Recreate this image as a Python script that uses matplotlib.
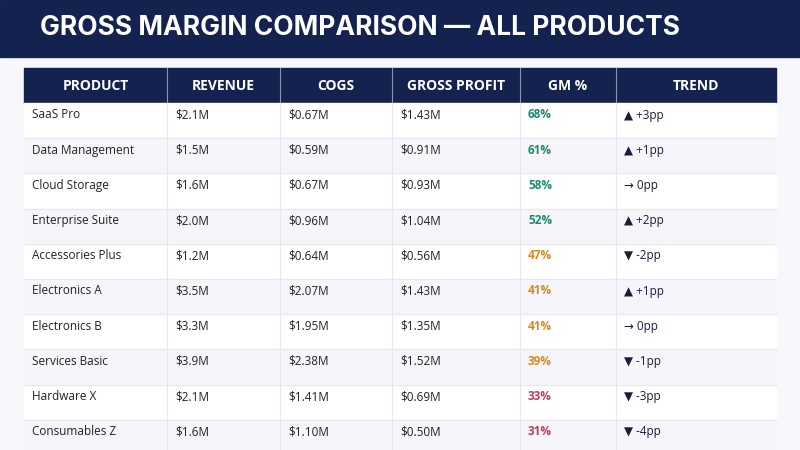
import matplotlib.pyplot as plt
from matplotlib.patches import Rectangle

# --- data ---
products = ["SaaS Pro", "Data Management", "Cloud Storage", "Enterprise Suite", "Accessories Plus",
            "Electronics A", "Electronics B", "Services Basic", "Hardware X", "Consumables Z"]
revenue = ["$2.1M", "$1.5M", "$1.6M", "$2.0M", "$1.2M", "$3.5M", "$3.3M", "$3.9M", "$2.1M", "$1.6M"]
cogs = ["$0.67M", "$0.59M", "$0.67M", "$0.96M", "$0.64M", "$2.07M", "$1.95M", "$2.38M", "$1.41M", "$1.10M"]
gross_profit = ["$1.43M", "$0.91M", "$0.93M", "$1.04M", "$0.56M", "$1.43M", "$1.35M", "$1.52M", "$0.69M", "$0.50M"]
gm_pct = [68, 61, 58, 52, 47, 41, 41, 39, 33, 31]
trend = ["▲ +3pp", "▲ +1pp", "→ 0pp", "▲ +2pp", "▼ -2pp", "▲ +1pp", "→ 0pp", "▼ -1pp", "▼ -3pp", "▼ -4pp"]
headers = ["PRODUCT", "REVENUE", "COGS", "GROSS PROFIT", "GM %", "TREND"]

NAVY = "#13224f"
W, H = 800, 450
fig = plt.figure(figsize=(8, 4.5), dpi=100)
ax = fig.add_axes([0, 0, 1, 1])
ax.set_xlim(0, W)
ax.set_ylim(H, 0)
ax.axis("off")
fig.patch.set_facecolor("#f7f8fc")

# title band
ax.add_patch(Rectangle((0, 0), W, 57, color=NAVY))
ax.text(40, 28, "GROSS MARGIN COMPARISON — ALL PRODUCTS", color="white", fontsize=19,
        fontweight="bold", va="center", ha="left", family="Inter")

cols = [24, 167, 280, 392, 520, 616, 776]
head_top, head_bot = 68, 103
row_h = 35.2

ax.add_patch(Rectangle((cols[0], head_top), cols[-1] - cols[0], head_bot - head_top, color=NAVY))
for i, h in enumerate(headers):
    xc = (cols[i] + cols[i + 1]) / 2
    ax.text(xc, (head_top + head_bot) / 2, h, color="white", fontsize=10, fontweight="bold",
            ha="center", va="center", family="Open Sans")
    if i > 0:
        ax.plot([cols[i], cols[i]], [head_top, head_bot], color="#8a94b0", lw=0.8)

def gm_color(v):
    if v >= 50:
        return "#1f8a70"
    if v >= 35:
        return "#d98a1c"
    return "#c43c5a"

for r in range(len(products)):
    top = head_bot + r * row_h
    bg = "white" if r % 2 == 0 else "#f5f5fa"
    ax.add_patch(Rectangle((cols[0], top), cols[-1] - cols[0], row_h, color=bg))
    ax.plot([cols[0], cols[-1]], [top + row_h, top + row_h], color="#e6e7f0", lw=0.8)
    vals = [products[r], revenue[r], cogs[r], gross_profit[r], f"{gm_pct[r]}%", trend[r]]
    for c, v in enumerate(vals):
        kw = dict(color="#222222", fontsize=8.5, fontweight="normal")
        if c == 4:
            kw = dict(color=gm_color(gm_pct[r]), fontsize=8.5, fontweight="bold")
        if c == 5:
            kw["color"] = "#1c1c3a"
        ax.text(cols[c] + 8, top + 12, v, ha="left", va="center",
                family=["Open Sans", "DejaVu Sans"], **kw)

for x in cols[1:-1]:
    ax.plot([x, x], [head_bot, H], color="#e6e7f0", lw=0.8)

fig.savefig("out.png", dpi=100)
